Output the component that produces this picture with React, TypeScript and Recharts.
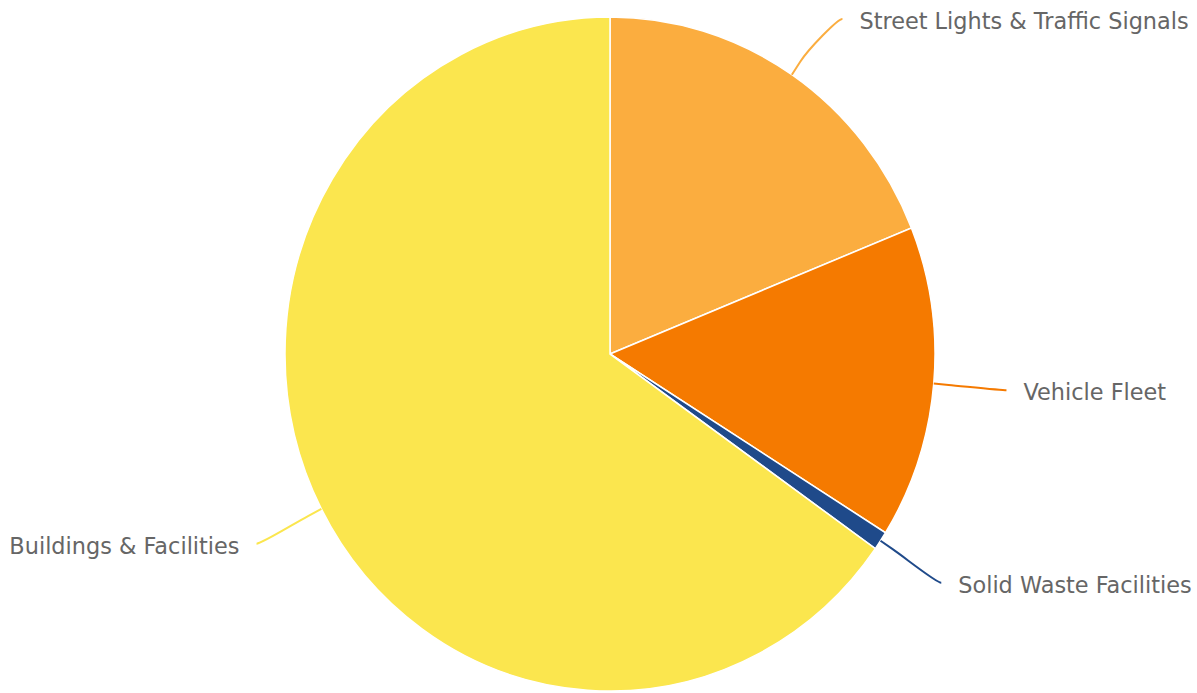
import React from "react";
import { PieChart, Pie, Cell } from "recharts";

// slices in clockwise order from 12 o'clock
const categories = [
  "Street Lights & Traffic Signals",
  "Vehicle Fleet",
  "Solid Waste Facilities",
  "Buildings & Facilities",
];
const shares = [18.9, 15.0, 0.9, 65.2];
const colors = ["#FBAD3F", "#F57A00", "#1F4A8A", "#FBE64E"];

const data = categories.map((name, i) => ({ name, value: shares[i] }));

const W = 1197;
const H = 693;
const CX = 610;
const CY = 354;
const RX = 325;
const RY = 337;
const K = RY / RX; // the reference pie is slightly taller than wide
const LABEL_DIST = 73;
const BREAK_DIST = 15;
const FONT = 22.4;
const LABEL_MIN_Y = 19;

const PieLabel = (props: any) => {
  const { cx, cy, midAngle, outerRadius, index, name } = props;
  const theta = ((90 - midAngle) * Math.PI) / 180;
  const dx = Math.sin(theta);
  const dy = -Math.cos(theta);
  const right = dx >= 0;

  const lx = outerRadius + LABEL_DIST;
  const ly = (outerRadius + LABEL_DIST) * K;
  const touch = { x: cx + outerRadius * dx, y: cy + outerRadius * K * dy };
  const brk = {
    x: cx + (outerRadius + BREAK_DIST) * dx,
    y: cy + (outerRadius + BREAK_DIST) * K * dy,
  };
  // keep labels inside the plot, sliding along the label ellipse
  let ay = Math.max(cy + ly * dy, LABEL_MIN_Y);
  const s = Math.min(1, Math.abs((ay - cy) / ly));
  const ax = cx + (right ? 1 : -1) * lx * Math.sqrt(1 - s * s);
  const c2 = { x: 2 * brk.x - touch.x, y: 2 * brk.y - touch.y };
  const d = `M${ax},${ay} C${ax + (right ? -5 : 5)},${ay} ${c2.x},${c2.y} ${brk.x},${brk.y} L${touch.x},${touch.y}`;

  return (
    <g>
      <path d={d} fill="none" stroke={colors[index]} strokeWidth={2} />
      <text
        x={ax + (right ? 17 : -17)}
        y={ay + 2}
        textAnchor={right ? "start" : "end"}
        dominantBaseline="central"
        fill="#666666"
        fontSize={FONT}
        fontFamily="'DejaVu Sans', sans-serif"
      >
        {name}
      </text>
    </g>
  );
};

export default function App() {
  return (
    <div
      className="pie-ellipse"
      style={{ position: "absolute", left: 0, top: 0, width: W, height: H, background: "#fff" }}
    >
      <style>{`
        .pie-ellipse .recharts-pie-sector path {
          transform-box: view-box;
          transform-origin: ${CX}px ${CY}px;
          transform: scaleY(${K});
        }
      `}</style>
      <PieChart width={W} height={H} margin={{ top: 0, right: 0, bottom: 0, left: 0 }}>
        <Pie
          data={data}
          dataKey="value"
          nameKey="name"
          cx={CX}
          cy={CY}
          outerRadius={RX}
          startAngle={90}
          endAngle={-270}
          stroke="#ffffff"
          strokeWidth={1.5}
          label={PieLabel}
          labelLine={false}
          isAnimationActive={false}
        >
          {data.map((d, i) => (
            <Cell key={d.name} fill={colors[i]} />
          ))}
        </Pie>
      </PieChart>
    </div>
  );
}
